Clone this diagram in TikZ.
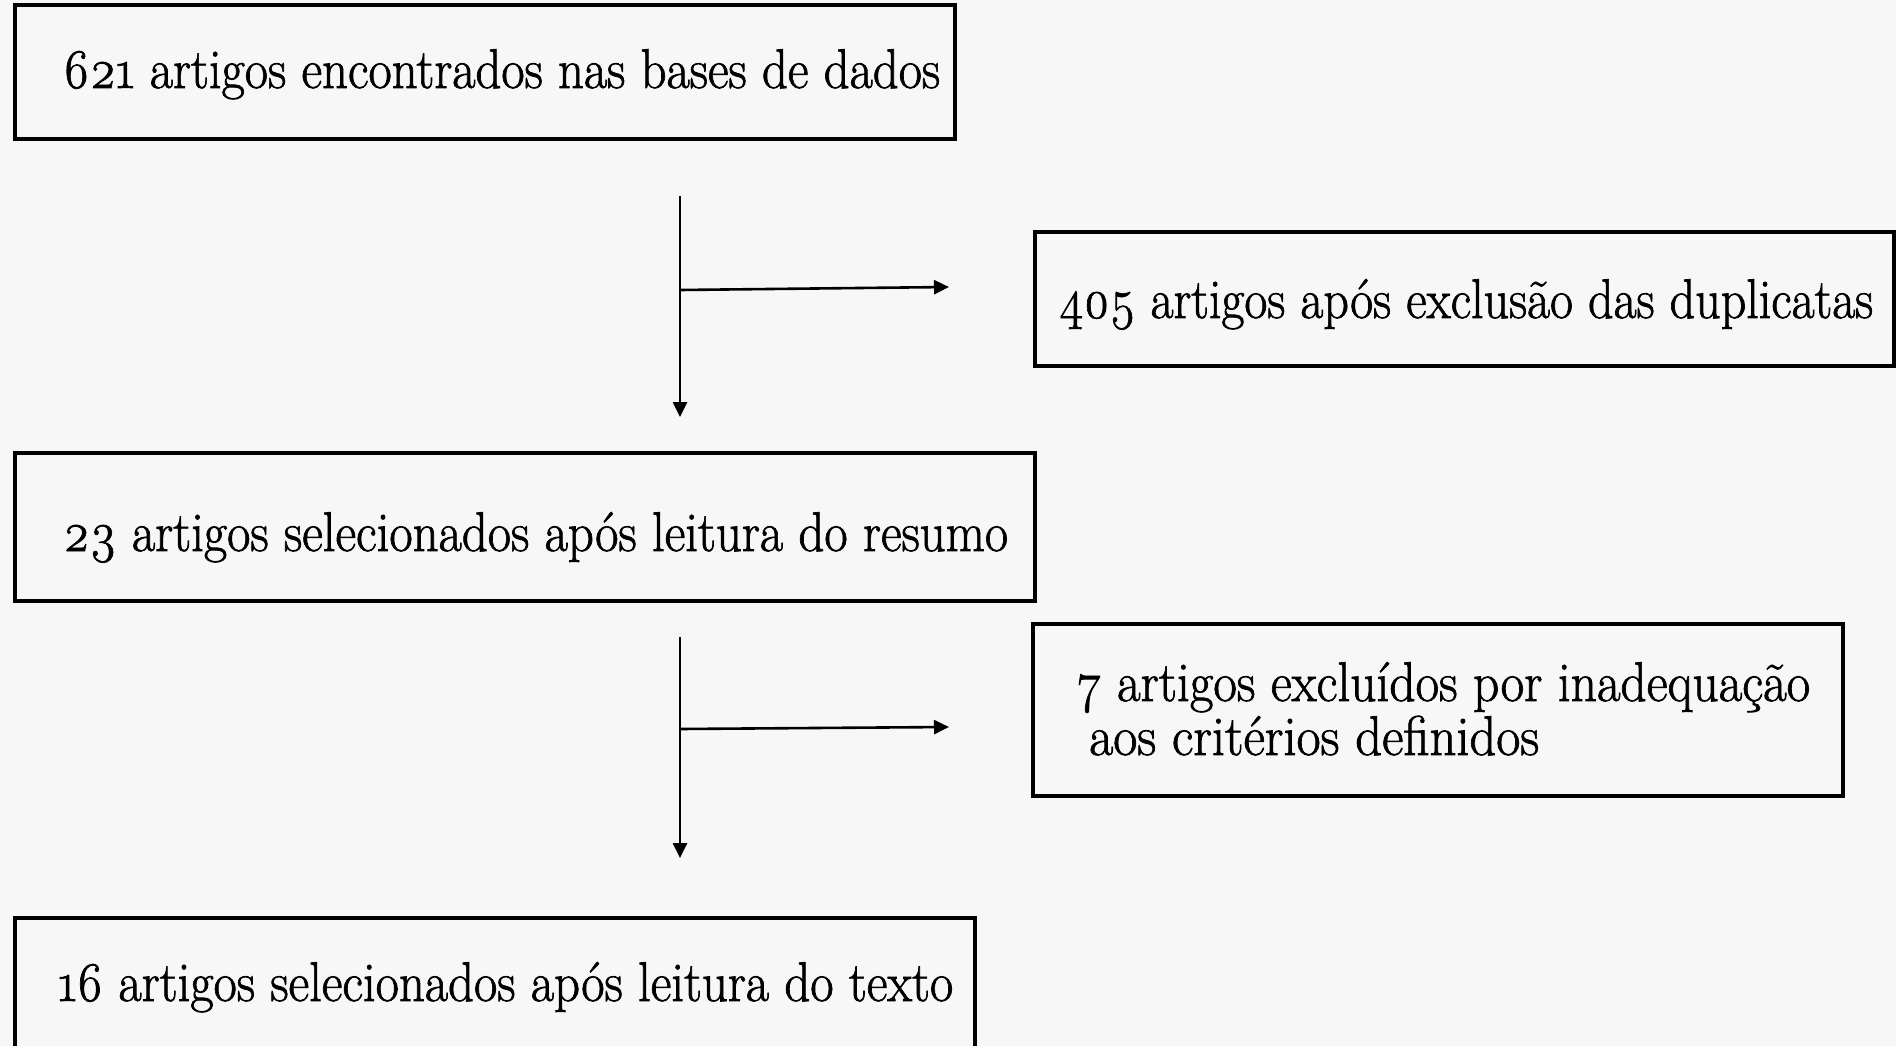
\documentclass[tikz,border=0pt]{standalone}
\usepackage{fontspec}
\setmainfont{Latin Modern Roman}[Numbers=OldStyle, FakeBold=1.3]
\usepackage{graphicx}
\usetikzlibrary{arrows.meta}
\newcommand\fitw[2]{\resizebox{#1}{\height}{#2}}
\tikzset{
  boxstyle/.style={draw=black, line width=4pt, inner sep=0pt},
  txt/.style={anchor=base west, inner sep=0pt, font=\fontsize{56}{62}\selectfont},
  conn/.style={draw=black, line width=2.6pt, -{Triangle[length=15pt,width=14pt]}},
}
\begin{document}
\begin{tikzpicture}[x=1pt,y=-1pt]
\clip (0,0) rectangle (1896,1046);
\fill[white!97!black] (0,0) rectangle (1896,1046);
% boxes
\node[boxstyle, minimum width=940pt, minimum height=134pt] (b1) at (485,72) {};
\node[boxstyle, minimum width=859pt, minimum height=134pt] (b2) at (1464.5,299) {};
\node[boxstyle, minimum width=1020pt, minimum height=148pt] (b3) at (525,527) {};
\node[boxstyle, minimum width=810pt, minimum height=172pt] (b4) at (1438,710) {};
\node[boxstyle, minimum width=960pt, minimum height=160pt] (b5) at (495,998) {};
% texts
\node[txt] (t1) at (63,88) {\fitw{877pt}{621 artigos encontrados nas bases de dados}};
\node[txt] (t2) at (1059,318) {\fitw{814pt}{405 artigos após exclusão das duplicatas}};
\node[txt] (t3) at (63,551) {\fitw{945pt}{23 artigos selecionados após leitura do resumo}};
\node[txt] (t4a) at (1077,701) {\fitw{733pt}{7 artigos excluídos por inadequação}};
\node[txt] (t4b) at (1089,755) {\fitw{450pt}{aos critérios definidos}};
\node[txt] (t5) at (58,1001) {\fitw{895pt}{16 artigos selecionados após leitura do texto}};
% connectors
\coordinate (v1s) at (680,196);
\coordinate (v1e) at (680,417);
\coordinate (h1s) at (680,290);
\coordinate (h1e) at (949,287);
\coordinate (v2s) at (680,637);
\coordinate (v2e) at (680,858);
\coordinate (h2s) at (680,729);
\coordinate (h2e) at (949,727);
\draw[conn] (v1s) -- (v1e);
\draw[conn] (h1s) -- (h1e);
\draw[conn] (v2s) -- (v2e);
\draw[conn] (h2s) -- (h2e);
\end{tikzpicture}
\end{document}
